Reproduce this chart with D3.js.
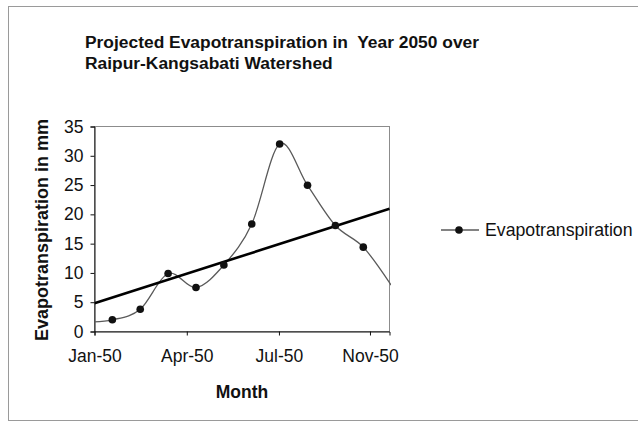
<!DOCTYPE html>
<html>
<head>
<meta charset="utf-8">
<script src="https://cdn.jsdelivr.net/npm/d3@7"></script>
<style>
  html, body { margin: 0; padding: 0; background: #fff; }
  svg text { font-family: "Liberation Sans", Arial, sans-serif; fill: #111; }
</style>
</head>
<body>
<svg id="chart" width="638" height="425"></svg>
<script>
// Monthly evapotranspiration (mm), Dec-49 .. Nov-50 as month index 0..11
const monthIndex = [0, 1, 2, 3, 4, 5, 6, 7, 8, 9, 10, 11];
const evapotranspiration = [1.6, 2.0, 3.8, 9.9, 7.5, 11.35, 18.35, 32.0, 24.96, 18.1, 14.4, 7.9];

// Axis extent and tick positions, in month-index units
const xExtent = [0.36, 10.94];
const xTickValues = [0.36, 3.67, 6.975, 10.24];
const xTickLabels = ["Jan-50", "Apr-50", "Jul-50", "Nov-50"];
const yTickValues = [0, 5, 10, 15, 20, 25, 30, 35];

const titleLines = ["Projected Evapotranspiration in  Year 2050 over", "Raipur-Kangsabati Watershed"];
const xTitle = "Month";
const yTitle = "Evapotranspiration in mm";
const seriesName = "Evapotranspiration";

const svg = d3.select("#chart");
const plot = { left: 94.5, right: 389.5, top: 126.5, bottom: 331.5 };

const x = d3.scaleLinear().domain(xExtent).range([plot.left, plot.right]);
const y = d3.scaleLinear().domain([0, 35]).range([plot.bottom, plot.top]);

const points = monthIndex.map((m, i) => ({ m, v: evapotranspiration[i] }));

// Outer chart border
svg.append("rect")
  .attr("x", 8.5).attr("y", 6.5)
  .attr("width", 660).attr("height", 414)
  .attr("fill", "none").attr("stroke", "#9a9a9a").attr("stroke-width", 1);

// Title
svg.append("text")
  .attr("x", 85).attr("y", 48)
  .style("font-size", "17.4px").style("font-weight", "bold").style("white-space", "pre")
  .selectAll("tspan").data(titleLines).join("tspan")
  .attr("x", 85).attr("dy", (d, i) => i === 0 ? 0 : 20.5)
  .text(d => d);

// Plot frame
svg.append("rect")
  .attr("x", plot.left).attr("y", plot.top)
  .attr("width", plot.right - plot.left).attr("height", plot.bottom - plot.top)
  .attr("fill", "none").attr("stroke", "#8c8c8c").attr("stroke-width", 1);

svg.append("defs").append("clipPath").attr("id", "plotClip")
  .append("rect")
  .attr("x", plot.left).attr("y", plot.top - 5)
  .attr("width", plot.right - plot.left + 1.5).attr("height", plot.bottom - plot.top + 5);

// Axes
const yAxis = d3.axisLeft(y).tickValues(yTickValues).tickSize(4).tickPadding(7);
const gy = svg.append("g").attr("transform", `translate(${plot.left},0)`).call(yAxis);
gy.select(".domain").attr("stroke", "#111");
gy.selectAll(".tick line").attr("stroke", "#111");
gy.selectAll(".tick text").style("font-size", "17.5px").attr("fill", "#111");

const xAxis = d3.axisBottom(x).tickValues(xTickValues)
  .tickFormat((d, i) => xTickLabels[i]).tickSize(4).tickPadding(14);
const gx = svg.append("g").attr("transform", `translate(0,${plot.bottom})`).call(xAxis);
gx.select(".domain").attr("stroke", "#111");
gx.selectAll(".tick line").attr("stroke", "#111");
gx.selectAll(".tick text").style("font-size", "17.5px").attr("fill", "#111");

// Axis titles
svg.append("text")
  .attr("x", 242).attr("y", 398).attr("text-anchor", "middle")
  .style("font-size", "17.5px").style("font-weight", "bold")
  .text(xTitle);

svg.append("text")
  .attr("transform", "translate(48,230) rotate(-90)")
  .attr("text-anchor", "middle")
  .style("font-size", "18px").style("font-weight", "bold")
  .text(yTitle);

const clipped = svg.append("g").attr("clip-path", "url(#plotClip)");

// Smoothed series line
const line = d3.line()
  .x(d => x(d.m)).y(d => y(d.v))
  .curve(d3.curveCardinal.tension(0));

clipped.append("path")
  .datum(points)
  .attr("d", line)
  .attr("fill", "none").attr("stroke", "#5a5a5a").attr("stroke-width", 1.3);

// Linear trend line (least squares on the monthly values)
const mx = d3.mean(points, d => d.m), my = d3.mean(points, d => d.v);
const slope = d3.sum(points, d => (d.m - mx) * (d.v - my)) / d3.sum(points, d => (d.m - mx) ** 2);
const intercept = my - slope * mx;
const trend = xExtent.map(m => ({ m, v: intercept + slope * m }));

clipped.append("path")
  .datum(trend)
  .attr("d", d3.line().x(d => x(d.m)).y(d => y(d.v)))
  .attr("fill", "none").attr("stroke", "#000").attr("stroke-width", 2.6);

// Markers for the months inside the axis range
svg.append("g").selectAll("circle")
  .data(points.filter(d => d.m >= xExtent[0] && d.m <= xExtent[1]))
  .join("circle")
  .attr("cx", d => x(d.m)).attr("cy", d => y(d.v))
  .attr("r", 3.8).attr("fill", "#111");

// Legend
const lg = svg.append("g").attr("transform", "translate(441,230)");
lg.append("line").attr("x1", 0).attr("x2", 38).attr("y1", 0).attr("y2", 0)
  .attr("stroke", "#5a5a5a").attr("stroke-width", 1.3);
lg.append("circle").attr("cx", 18).attr("cy", 0).attr("r", 3.8).attr("fill", "#111");
lg.append("text").attr("x", 44).attr("y", 6)
  .style("font-size", "17.7px")
  .text(seriesName);
</script>
</body>
</html>
